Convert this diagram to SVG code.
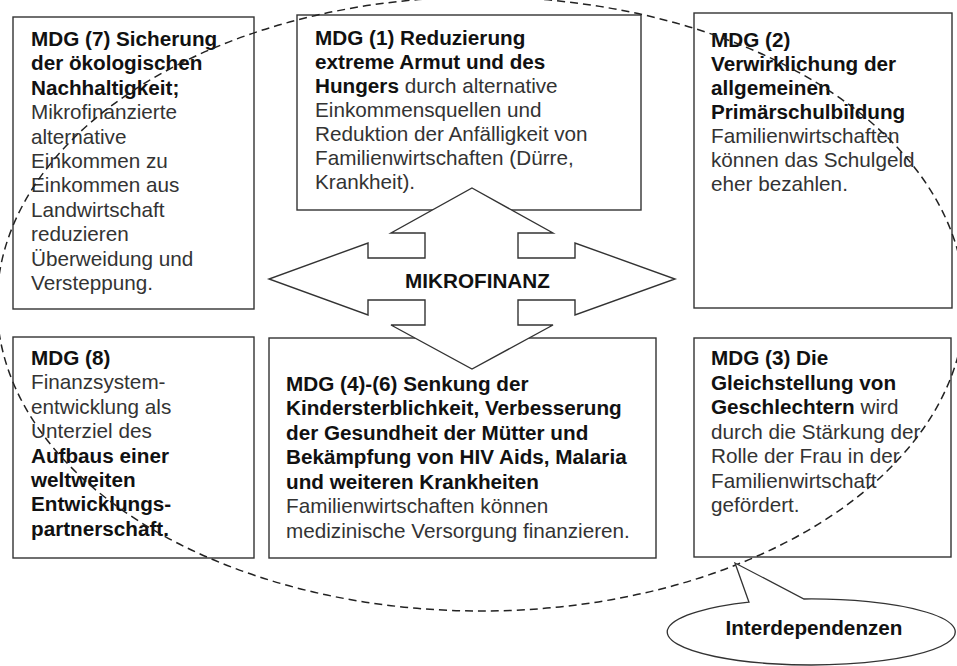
<svg xmlns="http://www.w3.org/2000/svg" width="957" height="666" viewBox="0 0 957 666">
<style>
.box{fill:#fff;stroke:#333;stroke-width:1.4}
text{font-family:"Liberation Sans",Arial,sans-serif;font-size:20.7px;fill:#333}
.b{font-weight:bold;fill:#111}
.arrow{fill:#fff;stroke:#333;stroke-width:1.4;stroke-linejoin:miter}
.dash{fill:none;stroke:#222;stroke-width:1.5;stroke-dasharray:8 5}
.callout{fill:#fff;stroke:#333;stroke-width:1.3}
</style>
<rect width="957" height="666" fill="#fff"/>

<g id="node-mdg7">
<rect class="box" x="13" y="17" width="241" height="292"/>
<text class="b" x="31" y="45.7">MDG (7) Sicherung</text>
<text class="b" x="31" y="70.1">der ökologischen</text>
<text class="b" x="31" y="94.6">Nachhaltigkeit;</text>
<text x="31" y="119">Mikrofinanzierte</text>
<text x="31" y="143.5">alternative</text>
<text x="31" y="167.9">Einkommen zu</text>
<text x="31" y="192.4">Einkommen aus</text>
<text x="31" y="216.8">Landwirtschaft</text>
<text x="31" y="241.3">reduzieren</text>
<text x="31" y="265.7">Überweidung und</text>
<text x="31" y="290.2">Versteppung.</text>
</g>

<g id="node-mdg1">
<rect class="box" x="297" y="15" width="344" height="195"/>
<text class="b" x="315" y="45">MDG (1) Reduzierung</text>
<text class="b" x="315" y="69">extreme Armut und des</text>
<text x="315" y="93"><tspan class="b">Hungers</tspan> durch alternative</text>
<text x="315" y="117">Einkommensquellen und</text>
<text x="315" y="141">Reduktion der Anfälligkeit von</text>
<text x="315" y="165">Familienwirtschaften (Dürre,</text>
<text x="315" y="189">Krankheit).</text>
</g>

<g id="node-mdg2">
<rect class="box" x="694" y="13" width="258" height="295"/>
<text class="b" x="711" y="46.5">MDG (2)</text>
<text class="b" x="711" y="70.5">Verwirklichung der</text>
<text class="b" x="711" y="94.5">allgemeinen</text>
<text class="b" x="711" y="118.5">Primärschulbildung</text>
<text x="711" y="142.5">Familienwirtschaften</text>
<text x="711" y="166.5">können das Schulgeld</text>
<text x="711" y="190.5">eher bezahlen.</text>
</g>

<g id="node-mdg8">
<rect class="box" x="13" y="337" width="241" height="221"/>
<text class="b" x="31" y="365">MDG (8)</text>
<text x="31" y="389.4">Finanzsystem-</text>
<text x="31" y="413.8">entwicklung als</text>
<text x="31" y="438.2">Unterziel des</text>
<text class="b" x="31" y="462.6">Aufbaus einer</text>
<text class="b" x="31" y="487">weltweiten</text>
<text class="b" x="31" y="511.4">Entwicklungs-</text>
<text class="b" x="31" y="535.8">partnerschaft.</text>
</g>

<g id="node-mdg4-6">
<rect class="box" x="269" y="338" width="387" height="220"/>
<text class="b" x="286" y="390.5">MDG (4)-(6) Senkung der</text>
<text class="b" x="286" y="415">Kindersterblichkeit, Verbesserung</text>
<text class="b" x="286" y="439.5">der Gesundheit der Mütter und</text>
<text class="b" x="286" y="464">Bekämpfung von HIV Aids, Malaria</text>
<text class="b" x="286" y="488.5">und weiteren Krankheiten</text>
<text x="286" y="513">Familienwirtschaften können</text>
<text x="286" y="537.5">medizinische Versorgung finanzieren.</text>
</g>

<g id="node-mdg3">
<rect class="box" x="694" y="338" width="257" height="219"/>
<text class="b" x="711" y="365">MDG (3) Die</text>
<text class="b" x="711" y="389.5">Gleichstellung von</text>
<text x="711" y="414"><tspan class="b">Geschlechtern</tspan> wird</text>
<text x="711" y="438.5">durch die Stärkung der</text>
<text x="711" y="463">Rolle der Frau in der</text>
<text x="711" y="487.5">Familienwirtschaft</text>
<text x="711" y="512">gefördert.</text>
</g>

<g id="node-mikrofinanz">
<polygon class="arrow" points="472,188 553,233 518,233 518,258 575,258 575,243 675,279 575,315 575,300 518,300 518,325 553,325 472,369 391,325 425,325 425,300 368,300 368,315 269,279 368,243 368,258 425,258 425,233 391,233"/>
<text class="b" x="477.5" y="288" text-anchor="middle">MIKROFINANZ</text>
</g>

<g id="connectors">
<ellipse class="dash" cx="481" cy="304" rx="484" ry="307"/>
</g>

<g id="node-interdependenzen">
<path class="callout" d="M749,602.2 L735,563 L804,599 A144 33 0 1 1 749,602.2 Z"/>
<text class="b" x="814" y="635" text-anchor="middle">Interdependenzen</text>
</g>
</svg>
